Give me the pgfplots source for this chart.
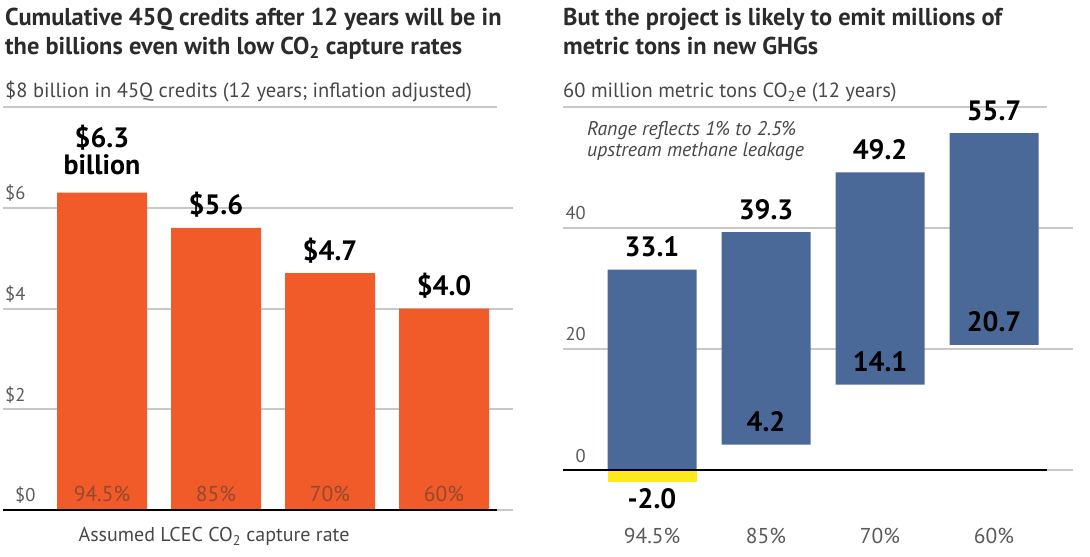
\documentclass[border=0pt]{standalone}
\usepackage{pgfplots}
\pgfplotsset{compat=1.18}
\usepackage{pgfplotstable}
\usepackage{fontspec}
\setmainfont{PT Sans}

\definecolor{orng}{HTML}{F15A29}
\definecolor{blu}{HTML}{4A6898}
\definecolor{yel}{HTML}{FFE81C}
\definecolor{grd}{HTML}{C8C8C8}
\definecolor{ttl}{HTML}{2B2B2B}
\definecolor{sub}{HTML}{474747}
\definecolor{tck}{HTML}{5A5A5A}
\definecolor{inbar}{HTML}{94492E}

\newcommand{\ttlfont}{\fontsize{24.4}{28}\selectfont\bfseries\color{ttl}}
\newcommand{\subfont}{\fontsize{20.5}{24}\selectfont\color{sub}}
\newcommand{\tckfont}{\fontsize{18.5}{20}\selectfont}
\newcommand{\catfont}{\fontsize{21.5}{24}\selectfont}
\newcommand{\valfont}{\fontsize{28}{27}\selectfont\bfseries}

\pgfplotstableread{
x val label cat
0 6.3 {\$6.3\\billion\rule[-10pt]{0pt}{10pt}} {94.5\%}
1 5.6 {\$5.6\rule[-5pt]{0pt}{5pt}} {85\%}
2 4.7 {\$4.7\rule[-5pt]{0pt}{5pt}} {70\%}
3 4.0 {\$4.0\rule[-5pt]{0pt}{5pt}} {60\%}
}\leftdata

\pgfplotstableread{
x low high toplab lowlab
0 0 33.1 33.1 {}
1 4.2 39.3 39.3 4.2
2 14.1 49.2 49.2 14.1
3 20.7 55.7 55.7 20.7
}\rightdata

\pgfplotstableread{
x val lab
0 -2.0 -2.0
}\negdata

\begin{document}
\begin{tikzpicture}[x=1pt,y=1pt]
\useasboundingbox (0,0) rectangle (1090,557);

% titles
\node[anchor=base west, inner sep=0] at (5,531) {\ttlfont Cumulative 45Q credits after 12 years will be in};
\node[anchor=base west, inner sep=0] at (5,502) {\ttlfont the billions even with low CO\textsubscript{2} capture rates};
\node[anchor=base west, inner sep=0] at (5,459) {\subfont \$8 billion in 45Q credits (12 years; inflation adjusted)};
\node[anchor=base, inner sep=0] at (214,15) {\fontsize{20}{24}\selectfont\color{sub} Assumed LCEC CO\textsubscript{2} capture rate};

\node[anchor=base west, inner sep=0] at (563,531) {\ttlfont But the project is likely to emit millions of};
\node[anchor=base west, inner sep=0] at (563,502) {\ttlfont metric tons in new GHGs};
\node[anchor=base west, inner sep=0] at (563,459) {\subfont 60 million metric tons CO\textsubscript{2}e (12 years)};
\node[anchor=base west, inner sep=0] at (587,421) {\fontsize{19.8}{22}\selectfont\itshape\color{sub} Range reflects 1\% to 2.5\%};
\node[anchor=base west, inner sep=0] at (587,400) {\fontsize{19.8}{22}\selectfont\itshape\color{sub} upstream methane leakage};

% left panel
\begin{axis}[
  at={(3pt,47pt)}, anchor=south west,
  scale only axis, width=510pt, height=403pt,
  xmin=-0.868421, xmax=3.605263, ymin=0, ymax=8,
  clip=false,
  axis lines*=left, axis line style={draw=none}, tick style={draw=none},
  ybar, bar width=90pt, bar shift=0pt,
  ytick={0,2,4,6}, yticklabels={\hspace{10pt}\$0,\$2,\$4,\$6},
  yticklabel style={anchor=base west, inner sep=0pt, xshift=2pt, yshift=8pt, font=\tckfont, text=tck},
  ymajorgrids, grid style={grd, line width=2pt},
  xtick=\empty,
]
\addplot[fill=orng, draw=none, point meta=explicit symbolic, nodes near coords,
  nodes near coords style={anchor=south, inner sep=0pt, yshift=8pt, align=center, font=\valfont, text=black}]
  table[x=x, y=val, meta=label] {\leftdata};
\addplot[fill=none, draw=none, point meta=explicit symbolic, nodes near coords,
  nodes near coords style={anchor=base, inner sep=0pt, yshift=8pt, font=\catfont, text=inbar}]
  table[x=x, y expr=0, meta=cat] {\leftdata};
\draw[grd, line width=2.5pt] (axis cs:-0.868421,8) -- (axis cs:3.464912,8);
\draw[black, line width=2.5pt] (axis cs:-0.868421,0) -- (axis cs:3.464912,0);
\end{axis}

% right panel: floating bars
\begin{axis}[
  at={(563pt,87pt)}, anchor=south west,
  scale only axis, width=510pt, height=363pt,
  xmin=-0.780702, xmax=3.692982, ymin=0, ymax=60,
  clip=false,
  axis lines*=left, axis line style={draw=none}, tick style={draw=none},
  ybar stacked, bar width=89pt,
  ytick={0,20,40}, yticklabels={0,20,40},
  yticklabel style={anchor=base east, inner sep=0pt, xshift=23pt, yshift=8pt, font=\tckfont, text=tck},
  ymajorgrids, grid style={grd, line width=2pt},
  xtick={0,1,2,3}, xticklabels={94.5\%,85\%,70\%,60\%},
  xticklabel style={anchor=base, inner sep=0pt, yshift=-73pt, font=\catfont, text=tck},
]
\addplot[draw=none, fill=none] table[x=x, y=low] {\rightdata};
\addplot[fill=blu, draw=none] table[x=x, y expr=\thisrow{high}-\thisrow{low}] {\rightdata};
\draw[grd, line width=2.5pt] (axis cs:-0.780702,60) -- (axis cs:3.464912,60);
\end{axis}

% right panel: negative segment, labels, baseline
\begin{axis}[
  at={(563pt,87pt)}, anchor=south west,
  scale only axis, width=510pt, height=363pt,
  xmin=-0.780702, xmax=3.692982, ymin=0, ymax=60,
  clip=false, hide axis,
  ybar, bar width=89pt, bar shift=0pt,
]
\addplot[fill=yel, draw=none, point meta=explicit symbolic, nodes near coords,
  nodes near coords style={anchor=base, inner sep=0pt, yshift=-26pt, font=\valfont, text=black}]
  table[x=x, y=val, meta=lab] {\negdata};
\addplot[fill=none, draw=none, point meta=explicit symbolic, nodes near coords,
  nodes near coords style={anchor=base, inner sep=0pt, yshift=13pt, font=\valfont, text=black}]
  table[x=x, y=high, meta=toplab] {\rightdata};
\addplot[fill=none, draw=none, point meta=explicit symbolic, nodes near coords,
  nodes near coords style={anchor=base, inner sep=0pt, yshift=13pt, font=\valfont, text=black}]
  table[x=x, y=low, meta=lowlab] {\rightdata};
\draw[black, line width=2.5pt] (axis cs:-0.780702,0) -- (axis cs:3.464912,0);
\end{axis}
\end{tikzpicture}
\end{document}
